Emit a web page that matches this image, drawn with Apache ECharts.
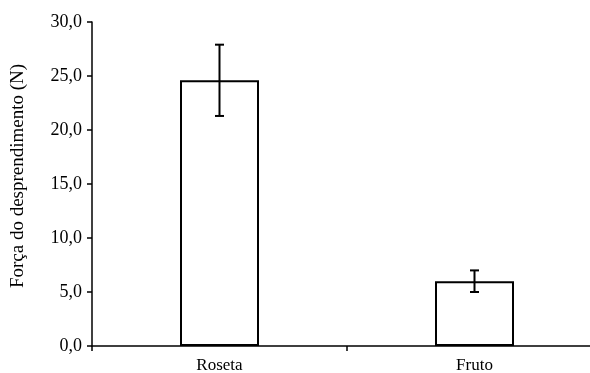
<!DOCTYPE html>
<html><head><meta charset="utf-8">
<script src="https://cdn.jsdelivr.net/npm/echarts@6/dist/echarts.min.js"></script>
<style>html,body{margin:0;padding:0;background:#fff}#c{width:590px;height:373px}</style>
</head><body><div id="c"></div>
<script>
var categories = ['Roseta', 'Fruto'];
var means = [24.6, 6.0];
var errLow = [21.3, 5.0];
var errHigh = [27.9, 7.0];
var yTicks = { min: 0, max: 30, interval: 5 };

var chart = echarts.init(document.getElementById('c'), null, {renderer: 'canvas'});
var font = 'Liberation Serif';
chart.setOption({
  animation: false,
  grid: { left: 92, width: 510, top: 22, height: 324, outerBoundsMode: 'none', containLabel: false },
  xAxis: {
    type: 'category', data: categories,
    axisLine: { lineStyle: { color: '#000', width: 1.5 } },
    axisTick: { show: true, length: 5, lineStyle: { color: '#000', width: 1.5 } },
    axisLabel: { color: '#000', fontFamily: font, fontSize: 17, margin: 11 }
  },
  yAxis: {
    type: 'value', min: yTicks.min, max: yTicks.max, interval: yTicks.interval,
    name: 'Força do desprendimento (N)', nameLocation: 'middle', nameGap: 64,
    nameTextStyle: { color: '#000', fontFamily: font, fontSize: 19, padding: [0, 0, 0, 16] },
    axisLine: { show: true, lineStyle: { color: '#000', width: 1.5 } },
    axisTick: { show: true, length: 5, lineStyle: { color: '#000', width: 1.5 } },
    axisLabel: { color: '#000', fontFamily: font, fontSize: 18, margin: 10,
      formatter: function (v) { return v.toFixed(1).replace('.', ','); } },
    splitLine: { show: false }
  },
  series: [{
    type: 'bar', data: means, barWidth: 79,
    itemStyle: { color: '#fff', borderColor: '#000', borderWidth: 2 }
  }, {
    type: 'custom',
    data: categories.map(function (c, i) { return [i, errLow[i], errHigh[i]]; }),
    renderItem: function (params, api) {
      var lo = api.coord([api.value(0), api.value(1)]);
      var hi = api.coord([api.value(0), api.value(2)]);
      var hw = 4.5;
      var st = { stroke: '#000', lineWidth: 2 };
      return { type: 'group', children: [
        { type: 'line', shape: { x1: hi[0], y1: hi[1], x2: lo[0], y2: lo[1] }, style: st },
        { type: 'line', shape: { x1: hi[0] - hw, y1: hi[1], x2: hi[0] + hw, y2: hi[1] }, style: st },
        { type: 'line', shape: { x1: lo[0] - hw, y1: lo[1], x2: lo[0] + hw, y2: lo[1] }, style: st }
      ]};
    },
    z: 10
  }]
});
</script></body></html>
